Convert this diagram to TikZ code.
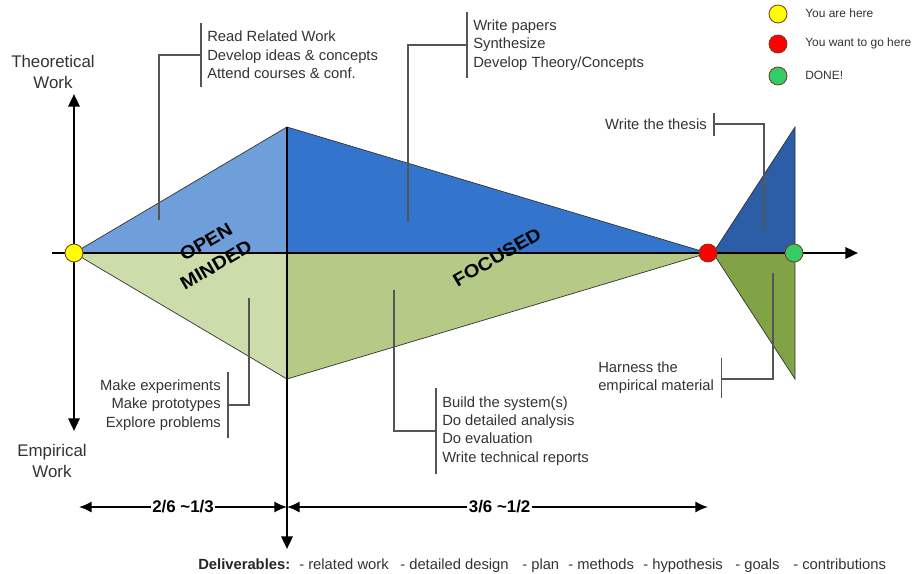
\documentclass[tikz,border=0pt]{standalone}
\usepackage{fontspec}
\setmainfont{Liberation Sans}
\usetikzlibrary{arrows.meta,positioning,calc}
\definecolor{PhaseBlueL}{HTML}{6F9FDB}
\definecolor{PhaseBlue}{HTML}{3375CC}
\definecolor{ThesisBlue}{HTML}{2B5EA7}
\definecolor{PhaseGreenL}{HTML}{CCDCAA}
\definecolor{PhaseGreen}{HTML}{B6CA87}
\definecolor{ThesisGreen}{HTML}{82A246}
\definecolor{DotYellow}{HTML}{FFFF00}
\definecolor{DotRed}{HTML}{FF0000}
\definecolor{DotGreen}{HTML}{33CC66}
\definecolor{DotRim}{HTML}{7A3A1A}
\definecolor{NoteGray}{HTML}{555555}
\tikzset{
  notetext/.style={font=\fontsize{10.5}{13}\selectfont, text=black!80, inner sep=0pt},
  notebar/.style={draw=NoteGray, line width=0.8pt},
  axisline/.style={line width=1.8pt, -{Triangle[length=9pt,width=8pt]}},
  spanarrow/.style={line width=1.4pt, {Latex[length=9pt,width=8pt]}-{Latex[length=9pt,width=8pt]}},
  milestone/.style={circle, draw=DotRim, line width=0.6pt, minimum size=0.45cm, inner sep=0pt},
  phase/.style={draw=black!80, line width=0.5pt},
  mood/.style={font=\bfseries\fontsize{13}{13}\selectfont, rotate=30, xscale=1.1, inner sep=0pt},
  axislabel/.style={font=\fontsize{12}{15}\selectfont, text=black!80, align=center},
  deliver/.style={font=\fontsize{10.5}{12}\selectfont, text=black!80, anchor=base west, inner sep=0pt}
}

\begin{document}
\begin{tikzpicture}[x=0.025cm,y=-0.025cm]
  \useasboundingbox (0,0) rectangle (914,573);
  % key points of the fish
  \coordinate (start) at (74,253);
  \coordinate (peak) at (287,127);
  \coordinate (mid) at (287,253);
  \coordinate (keel) at (287,379);
  \coordinate (goal) at (708,253);
  \coordinate (tail0) at (713,253);
  \coordinate (tailtop) at (795,127);
  \coordinate (tailmid) at (795,253);
  \coordinate (tailbot) at (795,379);

  % phases
  \fill[PhaseBlueL] (start) -- (peak) -- (mid) -- cycle;
  \fill[PhaseBlue] (peak) -- (mid) -- (goal) -- cycle;
  \fill[PhaseGreenL] (start) -- (mid) -- (keel) -- cycle;
  \fill[PhaseGreen] (mid) -- (keel) -- (goal) -- cycle;
  \fill[ThesisBlue] (tail0) -- (tailtop) -- (tailmid) -- cycle;
  \fill[ThesisGreen] (tail0) -- (tailmid) -- (tailbot) -- cycle;
  \draw[phase] (start) -- (peak) -- (goal) -- (keel) -- cycle;
  \draw[phase] (tail0) -- (tailtop) -- (tailbot) -- cycle;

  % notes
  \node[notetext, align=left, anchor=west] (readwork) at (207,55)
    {Read Related Work\\Develop ideas \& concepts\\Attend courses \& conf.};
  \coordinate (readtip) at (159,220);
  \draw[notebar] ($(readwork.north west)+(-6,-8)$) -- ($(readwork.south west)+(-6,8)$);
  \draw[notebar] ($(readwork.west)+(-6,0)$) -| (readtip);

  \node[notetext, align=left, anchor=west] (papers) at (473,45)
    {Write papers\\Synthesize\\Develop Theory/Concepts};
  \coordinate (paperstip) at (408,222);
  \draw[notebar] ($(papers.north west)+(-6,-8)$) -- ($(papers.south west)+(-6,8)$);
  \draw[notebar] ($(papers.west)+(-6,0)$) -| (paperstip);

  \node[notetext, anchor=east] (thesis) at (707,124) {Write the thesis};
  \coordinate (thesistip) at (764,231);
  \draw[notebar] ($(thesis.north east)+(7,-5)$) -- ($(thesis.south east)+(7,6)$);
  \draw[notebar] ($(thesis.east)+(7,0)$) -| (thesistip);

  \node[notetext, align=right, anchor=east] (explore) at (221,405)
    {Make experiments\\Make prototypes\\Explore problems};
  \coordinate (exploretip) at (249,298);
  \draw[notebar] ($(explore.north east)+(7,-8)$) -- ($(explore.south east)+(7,8)$);
  \draw[notebar] ($(explore.east)+(7,0)$) -| (exploretip);

  \node[notetext, align=left, anchor=west] (build) at (442,431)
    {Build the system(s)\\Do detailed analysis\\Do evaluation\\Write technical reports};
  \coordinate (buildtip) at (394,290);
  \draw[notebar] ($(build.north west)+(-6,-8)$) -- ($(build.south west)+(-6,8)$);
  \draw[notebar] ($(build.west)+(-6,0)$) -| (buildtip);

  \node[notetext, align=left, anchor=west] (harness) at (598,378)
    {Harness the\\empirical material};
  \coordinate (harnesstip) at (773,273);
  \draw[notebar] ($(harness.north east)+(7,-4)$) -- ($(harness.south east)+(7,4)$);
  \draw[notebar] ($(harness.east)+(7,1)$) -| (harnesstip);

  % axes
  \coordinate (xleft) at (52,253);
  \coordinate (xright) at (858,253);
  \coordinate (ytop) at (74,94);
  \coordinate (ybot) at (74,431);
  \coordinate (cbot) at (287,549);
  \draw[axisline] (xleft) -- (xright);
  \draw[axisline, {Triangle[length=9pt,width=8pt]}-{Triangle[length=9pt,width=8pt]}] (ytop) -- (ybot);
  \draw[axisline] (peak) -- (cbot);
  \node[axislabel] (theory) at (53,72) {Theoretical\\Work};
  \node[axislabel] (empiric) at (52,461) {Empirical\\Work};

  % time spans
  \coordinate (spanA) at (79,507);
  \coordinate (spanB) at (287,507);
  \coordinate (spanC) at (708,507);
  \draw[spanarrow] (spanA) -- (spanB)
    node[pos=0.5, fill=white, inner sep=1pt, font=\bfseries\fontsize{12}{12}\selectfont] (third) {2/6 \textasciitilde1/3};
  \draw[spanarrow] (spanB) -- (spanC)
    node[pos=0.505, fill=white, inner sep=1pt, font=\bfseries\fontsize{12}{12}\selectfont] (half) {3/6 \textasciitilde1/2};

  % milestones
  \node[milestone, fill=DotYellow] (here) at (start) {};
  \node[milestone, fill=DotRed] (there) at (goal) {};
  \node[milestone, fill=DotGreen] (done) at (794,253) {};

  % phase names
  \node[mood] (open) at (206,242) {OPEN};
  \node[mood] (minded) at (216,265) {MINDED};
  \node[mood] (focused) at (497,257) {FOCUSED};

  % legend
  \foreach \y/\col/\txt [count=\i] in {14/DotYellow/You are here, 44/DotRed/You want to go here, 76/DotGreen/DONE!} {
    \node[milestone, fill=\col] (key\i) at (778,\y) {};
    \node[font=\fontsize{8.5}{10}\selectfont, text=black!80, anchor=west, inner sep=0pt] (keytxt\i) at (805,\y-1) {\txt};
  }

  % deliverables
  \node[deliver, font=\bfseries\fontsize{10.5}{12}\selectfont, text=black!85] (deliv) at (198,569) {Deliverables:};
  \foreach \x/\txt [count=\i] in {299/related work, 400/detailed design, 522/plan, 568/methods, 643/hypothesis, 735/goals, 793/contributions} {
    \node[deliver] (item\i) at (\x,569) {- \txt};
  }
\end{tikzpicture}
\end{document}
